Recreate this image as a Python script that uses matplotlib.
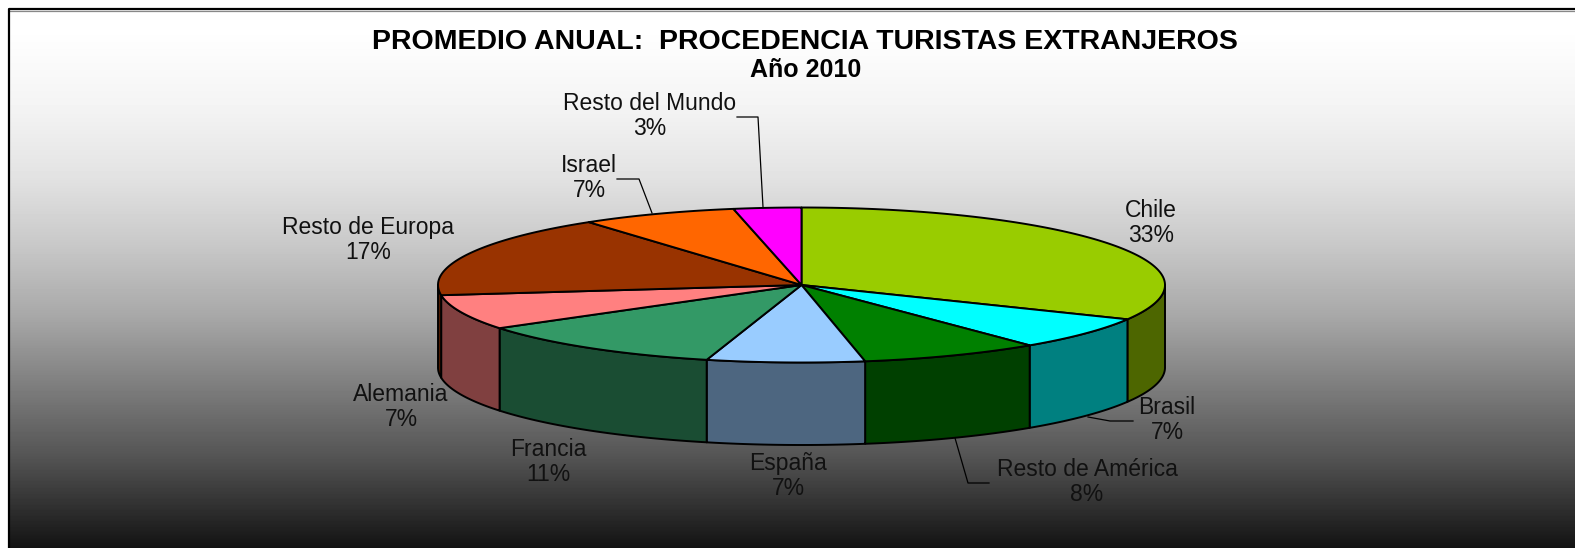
import matplotlib
matplotlib.use("Agg")
import matplotlib.pyplot as plt
import numpy as np

plt.rcParams["font.family"] = ["Liberation Sans", "DejaVu Sans"]

paises = ["Chile", "Brasil", "Resto de América", "España", "Francia",
          "Alemania", "Resto de Europa", "Israel", "Resto del Mundo"]
valores = [32.3, 6.9, 8.0, 7.0, 11.4, 7.3, 17.15, 6.95, 3.0]
etiquetas = ["33%", "7%", "8%", "7%", "11%", "7%", "17%", "7%", "3%"]
colores = ["#99CC00", "#00FFFF", "#008000", "#99CCFF", "#339966",
           "#FF8080", "#993300", "#FF6600", "#FF00FF"]
lados = ["#4D6600", "#008080", "#004000", "#4D6680", "#1A4D33",
         "#804040", "#4D1A00", "#803300", "#800080"]

titulo = "PROMEDIO ANUAL:  PROCEDENCIA TURISTAS EXTRANJEROS"
subtitulo = "Año 2010"

# label centres, in pixels
pos_etiquetas = [(1151, 223), (1167, 420), (1087, 482), (788, 476), (548, 462),
                 (401, 407), (368, 240), (589, 178), (650, 116)]
guias = {
    "Brasil": [(1088, 417), (1110, 421), (1133, 421)],
    "Resto de América": [(955, 438), (968, 483), (989, 483)],
    "Israel": [(617, 179), (639, 179), (652, 213)],
    "Resto del Mundo": [(737, 117), (758, 117), (763, 207)],
}

cx, cy, rx, ry = 801.5, 285, 363.5, 77.5
alto = 82.5

fig = plt.figure(figsize=(15.75, 5.48), dpi=100, facecolor="white")
ax = fig.add_axes([0, 0, 1, 1])
ax.set_xlim(0, 1575)
ax.set_ylim(548, 0)
ax.axis("off")

# vertical background gradient
ys = np.arange(10, 548)
grises = np.interp(ys, [10, 35, 105, 175, 245, 315, 385, 455, 507, 548],
                   [255, 254, 244, 227, 200, 168, 126, 85, 48, 18])
ax.imshow(grises[:, None], cmap="gray", vmin=0, vmax=255, aspect="auto",
          extent=(10, 1575, 548, 10), zorder=0)
ax.plot([10, 1575], [10.5, 10.5], color="#888888", lw=0.9, zorder=1)
ax.plot([9, 9, 1575], [548, 9, 9], color="black", lw=1.6, zorder=1)

limites = 90 - np.cumsum([0] + valores) / sum(valores) * 360


def arco(t0, t1):
    t = np.radians(np.linspace(t0, t1, 120))
    return cx + rx * np.cos(t), cy - ry * np.sin(t)


# outer wall, only the front half of the ellipse shows
for i in range(len(valores)):
    t0, t1 = min(limites[i], 0), max(limites[i + 1], -180)
    if t0 <= t1:
        continue
    x, y = arco(t0, t1)
    ax.fill(np.r_[x, x[::-1]], np.r_[y, y[::-1] + alto], facecolor=lados[i],
            edgecolor="black", lw=1.4, zorder=2, joinstyle="round")

# top face
for i in range(len(valores)):
    x, y = arco(limites[i], limites[i + 1])
    ax.fill(np.r_[cx, x], np.r_[cy, y], facecolor=colores[i], edgecolor="black",
            lw=1.4, zorder=3, joinstyle="round")

for nombre, puntos in guias.items():
    px, py = zip(*puntos)
    ax.plot(px, py, color="black", lw=0.9, zorder=4)

for nombre, pct, (x, y) in zip(paises, etiquetas, pos_etiquetas):
    ax.text(x, y, nombre + "\n" + pct, ha="center", va="center", fontsize=16.5,
            color="#111111", linespacing=1.12, zorder=5)

ax.text(805, 42, titulo, ha="center", va="center", fontsize=20.5, fontweight="bold",
        color="black", zorder=5)
ax.text(806, 70, subtitulo, ha="center", va="center", fontsize=18, fontweight="bold",
        color="black", zorder=5)

fig.savefig("out.png", dpi=100)
